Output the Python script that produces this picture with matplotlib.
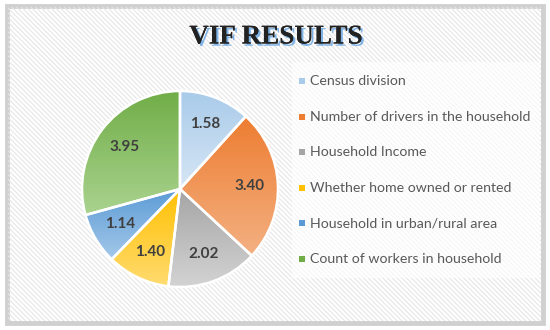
import numpy as np
import matplotlib
matplotlib.use("Agg")
import matplotlib.pyplot as plt
from matplotlib.patches import Rectangle
from matplotlib.colors import LinearSegmentedColormap
import matplotlib.patheffects as pe

categories = ["Census division", "Number of drivers in the household", "Household Income",
              "Whether home owned or rented", "Household in urban/rural area",
              "Count of workers in household"]
values = [1.58, 3.40, 2.02, 1.40, 1.14, 3.95]
labels = ["1.58", "3.40", "2.02", "1.40", "1.14", "3.95"]
top_colors = ["#A9CBEA", "#ED7D31", "#A5A5A5", "#FFC000", "#5B9BD5", "#70AD47"]
bottom_colors = ["#D6E6F5", "#F4B183", "#D3D3D3", "#FFDB70", "#A4C8EA", "#AAD38F"]
title = "VIF RESULTS"

W, H = 550, 330
fig = plt.figure(figsize=(W / 100, H / 100), dpi=100)
fig.patch.set_facecolor("white")

# background frame with hatch
plt.rcParams['hatch.linewidth'] = 0.8
bg = fig.add_axes([0, 0, 1, 1])
bg.set_xlim(0, W)
bg.set_ylim(H, 0)
bg.axis("off")
bg.add_patch(Rectangle((6.5, 5.5), 536, 317, facecolor="white", edgecolor="#D0D0D0",
                       linewidth=3.5, zorder=0))
bg.add_patch(Rectangle((8, 7), 533, 314, facecolor="none", edgecolor="#E6E6E6",
                       hatch="\\\\\\\\\\\\\\", linewidth=0, zorder=1))
# legend panel (whiter)
bg.add_patch(Rectangle((292, 62), 248, 216, facecolor="white", edgecolor="none",
                       alpha=0.65, zorder=2))

# title with blue shadow
bg.text(276, 37, title, ha="center", va="center", fontsize=19.5, fontweight="bold",
        family="Liberation Serif", color="#222222", zorder=5,
        path_effects=[pe.withSimplePatchShadow(offset=(1.6, -1.6), shadow_rgbFace="#7FB2E5", alpha=1.0),
                      pe.Normal()])

# pie
cx, cy, R = 180, 189, 98
ax = fig.add_axes([(cx - R) / W, (H - cy - R) / H, 2 * R / W, 2 * R / H])
wedges, _ = ax.pie(values, startangle=90, counterclock=False,
                   wedgeprops=dict(edgecolor="white", linewidth=1.8))
ax.set_xlim(-1, 1)
ax.set_ylim(-1, 1)
ax.set_aspect("equal")
for w, c1, c2 in zip(wedges, top_colors, bottom_colors):
    th = np.radians(np.linspace(w.theta1, w.theta2, 100))
    ys = np.concatenate([[0], np.sin(th)])
    xs = np.concatenate([[0], np.cos(th)])
    cmap = LinearSegmentedColormap.from_list("g", [c2, c1])
    grad = np.linspace(0, 1, 256).reshape(-1, 1)
    im = ax.imshow(grad, cmap=cmap, origin="lower", aspect="auto",
                   extent=(xs.min(), xs.max(), ys.min(), ys.max()), zorder=1)
    im.set_clip_path(w)
    w.set_facecolor("none")
    w.set_zorder(2)
ax.set_xlim(-1, 1)
ax.set_ylim(-1, 1)

total = sum(values)
ang = 90.0
for v, lab in zip(values, labels):
    span = v / total * 360
    mid = np.radians(ang - span / 2)
    ang -= span
    ax.text(0.71 * np.cos(mid), 0.71 * np.sin(mid), lab, ha="center", va="center",
            fontsize=11, fontweight="bold", family="Lato", color="#404040", zorder=5)

# legend
y0, dy = 81, 35.6
for i, (cat, c) in enumerate(zip(categories, top_colors)):
    y = y0 + i * dy
    bg.add_patch(Rectangle((299, y - 3), 6, 6, facecolor=c, edgecolor="none", zorder=5))
    bg.text(310, y, cat, ha="left", va="center", fontsize=10.2, family="Lato",
            color="#595959", zorder=5)

fig.savefig("out.png", dpi=100)
